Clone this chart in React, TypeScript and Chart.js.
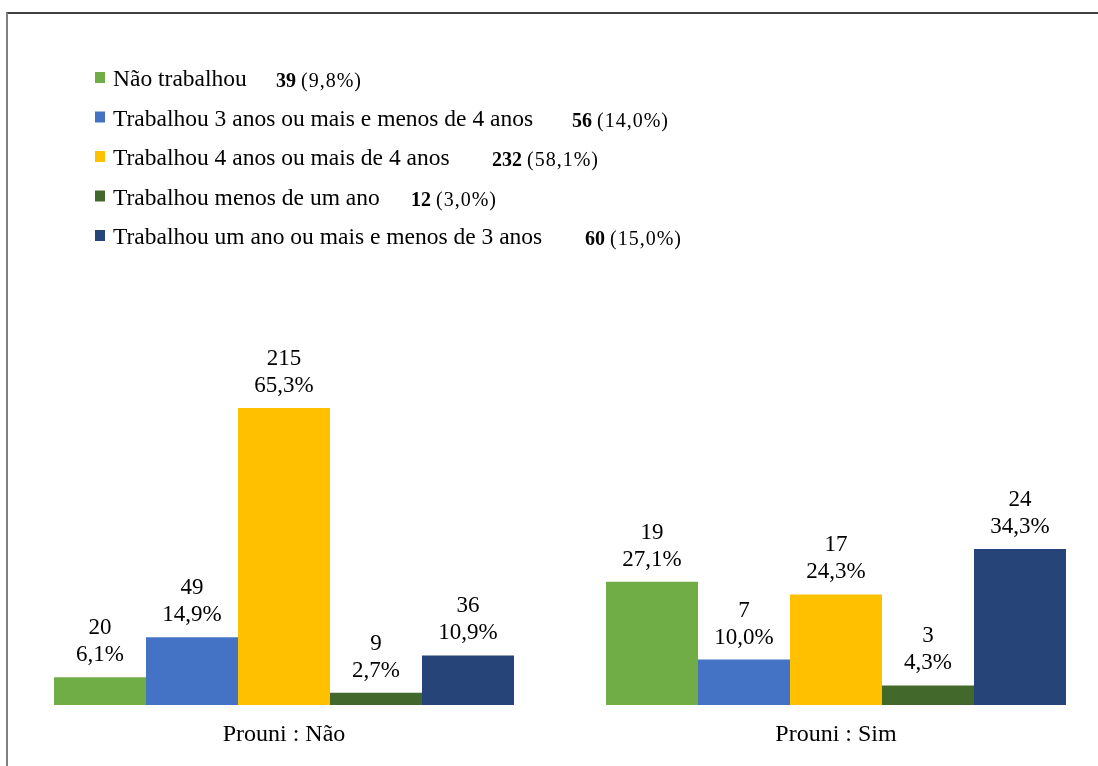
import React, { useEffect, useRef } from "react";
import { Chart, registerables } from "chart.js";

Chart.register(...registerables);

// ---------- data ----------
const categories = ["Prouni : Não", "Prouni : Sim"];
const seriesNames = [
  "Não trabalhou",
  "Trabalhou 3 anos ou mais e menos de 4 anos",
  "Trabalhou 4 anos ou mais de 4 anos",
  "Trabalhou menos de um ano",
  "Trabalhou um ano ou mais e menos de 3 anos",
];
const countsProuniNao = [20, 49, 215, 9, 36];
const countsProuniSim = [19, 7, 17, 3, 24];
const pctProuniNao = [6.1, 14.9, 65.3, 2.7, 10.9];
const pctProuniSim = [27.1, 10.0, 24.3, 4.3, 34.3];
const totalCounts = [39, 56, 232, 12, 60];
const totalPcts = [9.8, 14.0, 58.1, 3.0, 15.0];

// ---------- styles / layout ----------
const seriesColors = ["#70AD47", "#4472C4", "#FFC000", "#43682B", "#264478"];
const legendCountX = [276, 572, 492, 411, 585];
const FONT = '"Liberation Serif", "Times New Roman", serif';

const fmtPct = (v: number) => v.toFixed(1).replace(".", ",") + "%";

const framePlugin = {
  id: "frame",
  beforeDraw(chart: any) {
    const ctx = chart.ctx;
    ctx.save();
    ctx.fillStyle = "#ffffff";
    ctx.fillRect(0, 0, chart.width, chart.height);
    ctx.strokeStyle = "#000000";
    ctx.lineWidth = 1.5;
    ctx.beginPath();
    ctx.moveTo(6, 13);
    ctx.lineTo(chart.width, 13);
    ctx.stroke();
    ctx.strokeStyle = "#808080";
    ctx.lineWidth = 2;
    ctx.beginPath();
    ctx.moveTo(7, 12.5);
    ctx.lineTo(7, chart.height);
    ctx.stroke();
    ctx.restore();
  },
};

const labelsPlugin = {
  id: "barLabels",
  afterDatasetsDraw(chart: any) {
    const ctx = chart.ctx;
    ctx.save();
    ctx.fillStyle = "#000000";
    ctx.textAlign = "center";
    ctx.textBaseline = "alphabetic";
    ctx.font = `23px ${FONT}`;
    chart.data.datasets.forEach((ds: any, i: number) => {
      const meta = chart.getDatasetMeta(i);
      meta.data.forEach((el: any, j: number) => {
        const count = ds.counts[j];
        const pct = ds.data[j];
        ctx.fillText(String(count), el.x, el.y - 43);
        ctx.fillText(fmtPct(pct), el.x, el.y - 16);
      });
    });
    ctx.restore();
  },
};

const legendPlugin = {
  id: "customLegend",
  afterDraw(chart: any) {
    const ctx = chart.ctx;
    ctx.save();
    ctx.textBaseline = "alphabetic";
    ctx.textAlign = "left";
    seriesNames.forEach((name, i) => {
      const base = 86 + i * 39.5;
      ctx.fillStyle = seriesColors[i];
      ctx.fillRect(95, base - 14, 10, 11);
      ctx.fillStyle = "#000000";
      ctx.font = `23.5px ${FONT}`;
      ctx.fillText(name, 113, base);
      const cx = legendCountX[i];
      ctx.font = `bold 20px ${FONT}`;
      const cs = String(totalCounts[i]);
      ctx.fillText(cs, cx, base + 1);
      const w = ctx.measureText(cs).width;
      ctx.font = `20px ${FONT}`;
      (ctx as any).letterSpacing = "1px";
      ctx.fillText("(" + fmtPct(totalPcts[i]) + ")", cx + w + 5, base + 1);
      (ctx as any).letterSpacing = "0px";
    });
    ctx.restore();
  },
};

export default function App() {
  const ref = useRef<HTMLCanvasElement | null>(null);

  useEffect(() => {
    if (!ref.current) return;
    const datasets = seriesNames.map((name, i) => ({
      label: name,
      data: [pctProuniNao[i], pctProuniSim[i]],
      counts: [countsProuniNao[i], countsProuniSim[i]],
      backgroundColor: seriesColors[i],
      borderWidth: 0,
      categoryPercentage: 0.8333,
      barPercentage: 1,
    }));
    const chart = new Chart(ref.current, {
      type: "bar",
      data: { labels: categories, datasets: datasets as any },
      options: {
        responsive: false,
        animation: false,
        devicePixelRatio: 1,
        layout: { padding: { top: 250, left: 8, right: 8, bottom: 1 } },
        plugins: {
          legend: { display: false },
          tooltip: { enabled: false },
          title: { display: false },
        },
        scales: {
          x: {
            grid: { display: false, drawTicks: false },
            border: { display: false },
            ticks: {
              color: "#000000",
              padding: 15.6,
              font: { family: FONT, size: 24 },
            },
          },
          y: {
            display: false,
            min: 0,
            max: 100,
            grid: { display: false },
          },
        },
      },
      plugins: [framePlugin, labelsPlugin, legendPlugin],
    });
    return () => chart.destroy();
  }, []);

  return (
    <div
      style={{
        position: "absolute",
        top: 0,
        left: 0,
        width: 1098,
        height: 766,
        overflow: "hidden",
        background: "#ffffff",
      }}
    >
      <canvas ref={ref} width={1120} height={766} style={{ display: "block" }} />
    </div>
  );
}
